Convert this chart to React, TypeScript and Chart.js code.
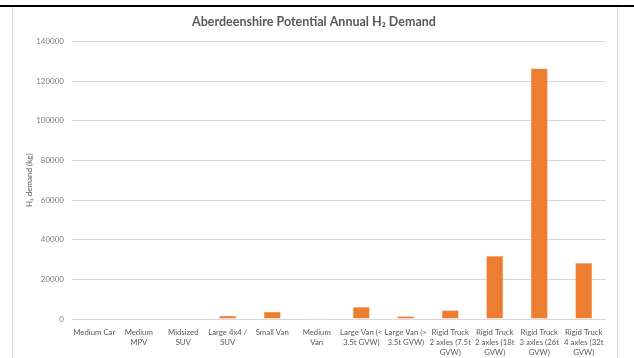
import React, { useEffect, useRef } from "react";
import { Chart, registerables } from "chart.js";

Chart.register(...registerables);

const categories: (string | string[])[] = [
  "Medium Car",
  ["Medium", "MPV"],
  ["Midsized", "SUV"],
  ["Large 4x4 /", "SUV"],
  "Small Van",
  ["Medium", "Van"],
  ["Large Van (<", "3.5t GVW)"],
  ["Large Van (>", "3.5t GVW)"],
  ["Rigid Truck", "2 axles (7.5t", "GVW)"],
  ["Rigid Truck", "2 axles (18t", "GVW)"],
  ["Rigid Truck", "3 axles (26t", "GVW)"],
  ["Rigid Truck", "4 axles (32t", "GVW)"],
];

const demandKg: number[] = [0, 0, 0, 1600, 3700, 400, 6100, 1400, 4400, 31800, 126300, 28300];

const yMax = 140000;
const yStep = 20000;

const FONT = "Lato, 'Open Sans', sans-serif";

const framePlugin = {
  id: "frame",
  beforeDraw(chart: any) {
    const ctx = chart.ctx;
    ctx.save();
    ctx.fillStyle = "#ffffff";
    ctx.fillRect(0, 0, chart.width, chart.height);
    ctx.strokeStyle = "#000000";
    ctx.lineWidth = 2;
    ctx.beginPath();
    ctx.moveTo(0, 6);
    ctx.lineTo(chart.width, 6);
    ctx.stroke();
    ctx.strokeStyle = "#d9d9d9";
    ctx.lineWidth = 1;
    ctx.beginPath();
    ctx.moveTo(12.5, 7);
    ctx.lineTo(12.5, chart.height);
    ctx.moveTo(617.5, 7);
    ctx.lineTo(617.5, chart.height);
    ctx.stroke();
    ctx.restore();
  },
};

export default function App() {
  const ref = useRef<HTMLCanvasElement>(null);
  useEffect(() => {
    if (!ref.current) return;
    const chart = new Chart(ref.current, {
      type: "bar",
      data: {
        labels: categories,
        datasets: [
          {
            data: demandKg,
            backgroundColor: "#ED7D31",
            borderColor: "#F4B183",
            borderWidth: 0.5,
            categoryPercentage: 1,
            barPercentage: 0.38,
          },
        ],
      },
      options: {
        animation: false,
        responsive: false,
        maintainAspectRatio: false,
        layout: { padding: { left: 0, right: 6, top: 0, bottom: 0 } },
        plugins: {
          legend: { display: false },
          tooltip: { enabled: false },
          title: {
            display: true,
            text: "Aberdeenshire Potential Annual H₂ Demand",
            color: "#595959",
            font: { family: FONT, size: 12.5, weight: "bold" },
            padding: { top: 14, bottom: 12.4 },
          },
        },
        scales: {
          x: {
            grid: { display: false, drawTicks: false },
            border: { display: false },
            ticks: {
              color: "#595959",
              font: { family: FONT, size: 7.8, lineHeight: 1.3 },
              maxRotation: 0,
              minRotation: 0,
              autoSkip: false,
              padding: 8,
            },
            afterFit(scale: any) {
              scale.height = 358 - 319;
            },
          },
          y: {
            min: 0,
            max: yMax,
            ticks: {
              stepSize: yStep,
              color: "#7f7f7f",
              font: { family: FONT, size: 8 },
              padding: 8,
              callback: (v: any) => String(v),
            },
            grid: { color: "#d9d9d9", drawTicks: false, lineWidth: 1 },
            border: { display: false },
            title: {
              display: true,
              text: "H₂ demand (kg)",
              color: "#595959",
              font: { family: FONT, size: 8 },
              padding: { top: 25, bottom: 0 },
            },
            afterFit(scale: any) {
              scale.width = 72;
            },
          },
          yRight: {
            type: "linear",
            position: "right",
            display: true,
            grid: { display: false, drawTicks: false },
            border: { display: false },
            ticks: { display: false },
            afterFit(scale: any) {
              scale.width = 22;
            },
          },
        },
      },
      plugins: [framePlugin],
    });
    return () => chart.destroy();
  }, []);
  return (
    <div style={{ position: "absolute", left: 0, top: 0, width: 634, height: 358 }}>
      <canvas ref={ref} width={634} height={358} />
    </div>
  );
}
